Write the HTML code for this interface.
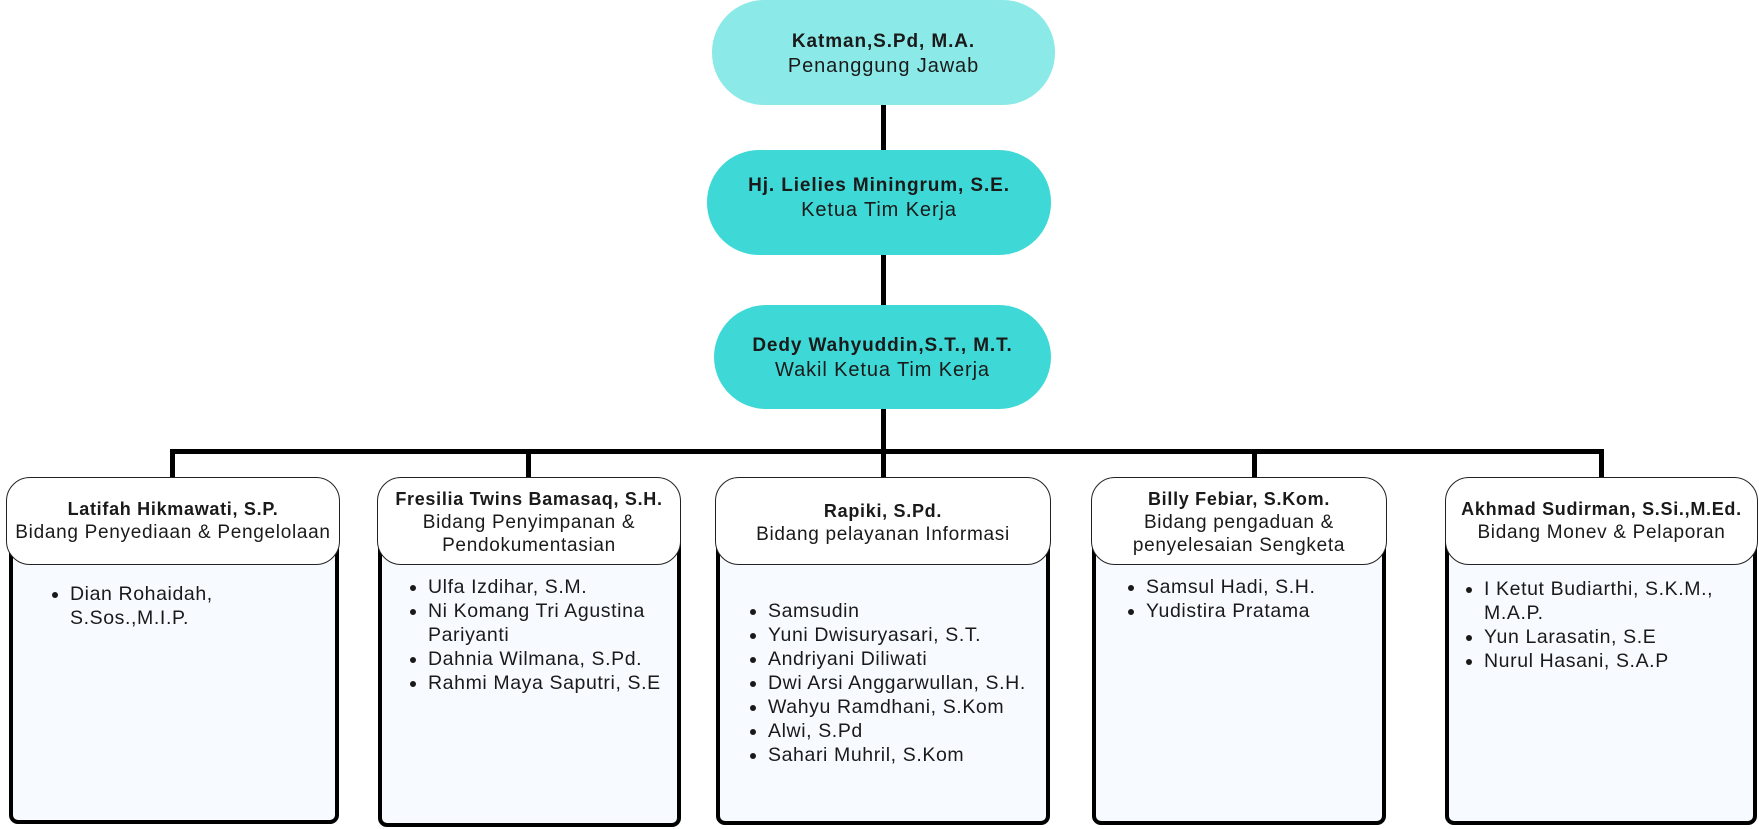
<!DOCTYPE html>
<html><head><meta charset="utf-8"><style>
*{margin:0;padding:0;box-sizing:border-box}
body{width:1759px;height:829px;background:#fff;position:relative;overflow:hidden;font-family:"Liberation Sans",sans-serif;color:#1a1a1a}
.pill{position:absolute;border-radius:52px;text-align:center;letter-spacing:0.9px}
.pill b{display:block;font-size:19px;line-height:25px}
.pill span{display:block;font-size:20px;line-height:25px}
.ln{position:absolute;background:#000}
.body{position:absolute;background:#f7fbff;border:4px solid #000;border-radius:9px}
.hd{position:absolute;background:#fff;border:1.5px solid #222;border-radius:24px;text-align:center;letter-spacing:0.7px;font-size:19px;line-height:23px;white-space:nowrap}
.hd b{display:block;font-size:18px}
ul{position:absolute;font-size:19.5px;line-height:24px;letter-spacing:0.6px;list-style:disc;padding-left:20px}
</style></head><body>
<div class="ln" style="left:881px;top:100px;width:5px;height:353px"></div>
<div class="ln" style="left:170px;top:449px;width:1434px;height:5px"></div>
<div class="ln" style="left:170px;top:449px;width:5px;height:30px"></div>
<div class="ln" style="left:526px;top:449px;width:5px;height:30px"></div>
<div class="ln" style="left:881px;top:449px;width:5px;height:30px"></div>
<div class="ln" style="left:1252px;top:449px;width:5px;height:30px"></div>
<div class="ln" style="left:1599px;top:449px;width:5px;height:30px"></div>

<div class="pill" style="left:712px;top:0;width:343px;height:105px;background:#8beae8;padding-top:29px"><b>Katman,S.Pd, M.A.</b><span>Penanggung Jawab</span></div>
<div class="pill" style="left:707px;top:150px;width:344px;height:105px;background:#3ed9d6;padding-top:23px"><b>Hj. Lielies Miningrum, S.E.</b><span>Ketua Tim Kerja</span></div>
<div class="pill" style="left:714px;top:305px;width:337px;height:104px;background:#3ed9d6;padding-top:28px"><b>Dedy Wahyuddin,S.T., M.T.</b><span>Wakil Ketua Tim Kerja</span></div>

<div class="body" style="left:9px;top:500px;width:330px;height:324px"></div>
<div class="hd" style="left:6px;top:477px;width:334px;height:88px;padding-top:20px"><b>Latifah Hikmawati, S.P.</b>Bidang Penyediaan &amp; Pengelolaan</div>
<ul style="left:50px;top:582px;width:270px"><li>Dian Rohaidah,<br>S.Sos.,M.I.P.</li></ul>

<div class="body" style="left:378px;top:500px;width:303px;height:327px"></div>
<div class="hd" style="left:377px;top:477px;width:304px;height:88px;padding-top:10px"><b>Fresilia Twins Bamasaq, S.H.</b>Bidang Penyimpanan &amp;<br>Pendokumentasian</div>
<ul style="left:408px;top:575px;width:270px"><li>Ulfa Izdihar, S.M.</li><li>Ni Komang Tri Agustina Pariyanti</li><li>Dahnia Wilmana, S.Pd.</li><li>Rahmi Maya Saputri, S.E</li></ul>

<div class="body" style="left:716px;top:500px;width:334px;height:325px"></div>
<div class="hd" style="left:715px;top:477px;width:336px;height:88px;padding-top:22px"><b>Rapiki, S.Pd.</b>Bidang pelayanan Informasi</div>
<ul style="left:748px;top:599px;width:340px;white-space:nowrap"><li>Samsudin</li><li>Yuni Dwisuryasari, S.T.</li><li>Andriyani Diliwati</li><li>Dwi Arsi Anggarwullan, S.H.</li><li>Wahyu Ramdhani, S.Kom</li><li>Alwi, S.Pd</li><li>Sahari Muhril, S.Kom</li></ul>

<div class="body" style="left:1092px;top:500px;width:294px;height:325px"></div>
<div class="hd" style="left:1091px;top:477px;width:296px;height:88px;padding-top:10px"><b>Billy Febiar, S.Kom.</b>Bidang pengaduan &amp;<br>penyelesaian Sengketa</div>
<ul style="left:1126px;top:575px;width:250px"><li>Samsul Hadi, S.H.</li><li>Yudistira Pratama</li></ul>

<div class="body" style="left:1445px;top:500px;width:312px;height:325px"></div>
<div class="hd" style="left:1445px;top:477px;width:313px;height:88px;padding-top:20px"><b>Akhmad Sudirman, S.Si.,M.Ed.</b>Bidang Monev &amp; Pelaporan</div>
<ul style="left:1464px;top:577px;width:290px"><li>I Ketut Budiarthi, S.K.M., M.A.P.</li><li>Yun Larasatin, S.E</li><li>Nurul Hasani, S.A.P</li></ul>
</body></html>
